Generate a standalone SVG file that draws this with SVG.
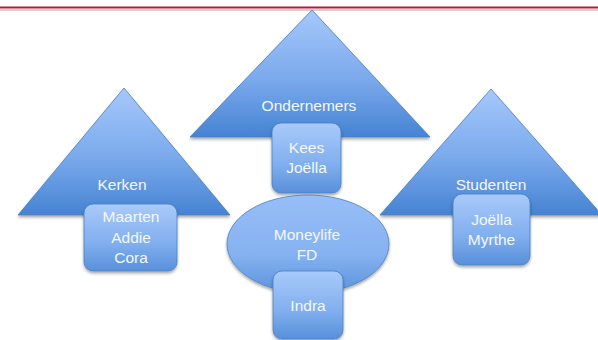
<svg xmlns="http://www.w3.org/2000/svg" width="598" height="340" viewBox="0 0 598 340">
<defs>
<linearGradient id="gTri" x1="0" y1="0" x2="0" y2="1">
<stop offset="0" stop-color="#A6C8FB"/>
<stop offset="0.55" stop-color="#7AA9EC"/>
<stop offset="1" stop-color="#4583D2"/>
</linearGradient>
<linearGradient id="gBox" x1="0" y1="0" x2="0" y2="1">
<stop offset="0" stop-color="#A9CAFA"/>
<stop offset="0.6" stop-color="#80AEEE"/>
<stop offset="1" stop-color="#5790DA"/>
</linearGradient>
<linearGradient id="gEll" x1="0" y1="0" x2="0" y2="1">
<stop offset="0" stop-color="#97BEF7"/>
<stop offset="0.6" stop-color="#86B2F1"/>
<stop offset="1" stop-color="#5B94DC"/>
</linearGradient>
<filter id="sh" x="-10%" y="-10%" width="120%" height="130%">
<feDropShadow dx="0" dy="2" stdDeviation="1.5" flood-color="#000" flood-opacity="0.35"/>
</filter>
</defs>
<style>
.tri{fill:url(#gTri);stroke:#4A7EC0;stroke-width:0.8;filter:url(#sh)}
.box{fill:url(#gBox);stroke:#4A7EC0;stroke-width:0.8;filter:url(#sh)}
.ell{fill:url(#gEll);stroke:#4A7EC0;stroke-width:0.8;filter:url(#sh)}
text{font-family:"Liberation Sans",Arial,sans-serif;font-size:15.5px;fill:#F4F8FF;text-anchor:middle}
</style>
<rect width="598" height="340" fill="#fff"/>
<line x1="0" y1="10" x2="598" y2="10" stroke="#999" stroke-width="2" opacity="0.45"/>
<line x1="0" y1="7.5" x2="598" y2="7.5" stroke="#C0143C" stroke-width="2.2"/>

<g id="ondernemers">
<polygon class="tri" points="190,137 312,10 430,137"/>
<text x="309" y="111">Ondernemers</text>
</g>
<g id="kerken">
<polygon class="tri" points="18,215 124,88 230,215"/>
<text x="122" y="190">Kerken</text>
</g>
<g id="studenten">
<polygon class="tri" points="380,215 491,89 602,215"/>
<text x="491" y="190">Studenten</text>
</g>
<g id="kees-joella">
<rect class="box" x="272" y="123" width="69" height="70" rx="9"/>
<text x="306.5" y="153">Kees</text>
<text x="306.5" y="173">Joëlla</text>
</g>
<g id="maarten-addie-cora">
<rect class="box" x="84" y="204" width="93" height="67" rx="9"/>
<text x="131" y="222">Maarten</text>
<text x="131" y="243">Addie</text>
<text x="131" y="263">Cora</text>
</g>
<g id="joella-myrthe">
<rect class="box" x="453" y="194" width="77" height="71" rx="9"/>
<text x="491.5" y="225">Joëlla</text>
<text x="491.5" y="245">Myrthe</text>
</g>
<g id="moneylife">
<ellipse class="ell" cx="308" cy="244" rx="81" ry="49"/>
<text x="307" y="240">Moneylife</text>
<text x="307" y="260">FD</text>
</g>
<g id="indra">
<rect class="box" x="273" y="271" width="70" height="68" rx="9"/>
<text x="308" y="311">Indra</text>
</g>
<g id="connectors"/>
</svg>
